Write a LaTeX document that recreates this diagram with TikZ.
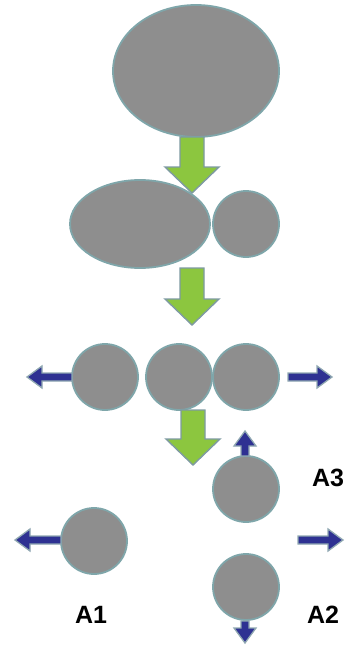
\documentclass[tikz,border=0pt]{standalone}
\usepackage{fontspec}
\setmainfont{Liberation Sans}
\usetikzlibrary{shapes.geometric}
\definecolor{cellfill}{HTML}{8E8E8E}
\definecolor{cellline}{HTML}{7FA6AA}
\definecolor{grn}{HTML}{8CC63F}
\definecolor{grnline}{HTML}{7E9AA2}
\definecolor{blu}{HTML}{2E3192}
\definecolor{bluline}{HTML}{90A8B2}
\tikzset{
  cell/.style={circle, fill=cellfill, draw=cellline, line width=1.8pt, inner sep=0pt, minimum size=66pt},
  bigcell/.style={ellipse, fill=cellfill, draw=cellline, line width=1.8pt, inner sep=0pt},
  greenarr/.style={fill=grn, draw=grnline, line width=1.4pt, line join=miter},
  bluearr/.style={fill=blu, draw=bluline, line width=1.3pt, line join=miter},
  lab/.style={font=\fontsize{25}{30}\selectfont\bfseries, inner sep=0pt}
}
\newcommand\greenarrow[3]{% x center, top y, tip y
  \draw[greenarr] (#1-12,#2) -- (#1+12,#2) -- (#1+12,#3-26) -- (#1+27,#3-26) -- (#1,#3) -- (#1-27,#3-26) -- (#1-12,#3-26) -- cycle;}
\newcommand\bluearrow[4]{% base x, base y, rotation, length
  \draw[bluearr, shift={(#1,#2)}, rotate=#3] (0,-4) -- (#4-15,-4) -- (#4-15,-11) -- (#4,0) -- (#4-15,11) -- (#4-15,4) -- (0,4) -- cycle;}
\begin{document}
\begin{tikzpicture}[x=1pt,y=-1pt]
\useasboundingbox (0,0) rectangle (345,645);
% stage 1
\node[bigcell, minimum width=166pt, minimum height=132pt] (top) at (196,71) {};
\greenarrow{192}{137}{193}
% stage 2
\node[bigcell, minimum width=140pt, minimum height=88pt] (mid) at (140,224) {};
\node[cell] (bud) at (246,224) {};
\greenarrow{192}{268}{325}
% stage 3
\node[cell] (c1) at (105,377) {};
\node[cell] (c2) at (179,377) {};
\node[cell] (c3) at (246,377) {};
\bluearrow{72}{377}{180}{45}
\bluearrow{288}{377}{0}{44}
\greenarrow{193}{410}{465}
% stage 4
\node[cell] (a3) at (246,489) {};
\bluearrow{245}{456}{90}{25}
\node[lab] (l3) at (328,478) {A3};
\node[cell] (a1) at (94,541) {};
\bluearrow{61}{540}{180}{46}
\node[lab] (l1) at (91,615) {A1};
\bluearrow{298}{540}{0}{45}
\node[cell] (a2) at (246,587) {};
\bluearrow{245}{621}{-90}{22}
\node[lab] (l2) at (323,615) {A2};
\end{tikzpicture}
\end{document}
